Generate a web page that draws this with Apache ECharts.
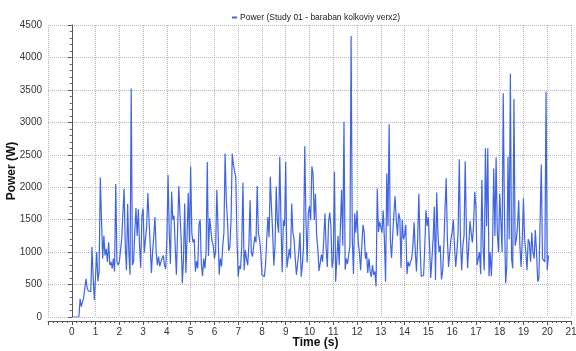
<!DOCTYPE html>
<html>
<head>
<meta charset="utf-8">
<script src="https://cdn.jsdelivr.net/npm/echarts@6/dist/echarts.min.js"></script>
<style>
	html, body { margin: 0; padding: 0; background: #fff; }
	#chart { width: 576px; height: 351px; }
</style>
</head>
<body>
<div id="chart"></div>
<script>
var seriesName = 'Power (Study 01 - baraban kolkoviy verx2)';
var timeStep = 0.05; // s, sample spacing

// power (W), one row per second of simulation
var power = [].concat(
	[0, 0, 0, 0, 0, 0, 0, 280, 160, 170, 300, 450, 590, 440, 400, 420, 390, 1080, 600, 260],
	[280, 1000, 550, 700, 2150, 1500, 900, 1250, 950, 1050, 850, 1150, 800, 850, 750, 900, 700, 2050, 850, 800],
	[850, 830, 1200, 1220, 1980, 1100, 720, 1740, 1000, 650, 3520, 800, 850, 1300, 1680, 1250, 1660, 1100, 760, 1550],
	[1670, 990, 1200, 1400, 1910, 1500, 1100, 680, 1010, 1250, 1540, 1000, 800, 930, 780, 850, 820, 950, 800, 740],
	[1200, 2190, 1300, 820, 1930, 1500, 1560, 1100, 650, 1300, 2020, 1600, 1200, 520, 900, 1750, 680, 1250, 1910, 1150],
	[2320, 1290, 1150, 1200, 700, 860, 750, 1420, 1500, 820, 630, 900, 750, 1000, 2390, 940, 1520, 1350, 1170, 1100],
	[900, 1000, 1960, 1400, 650, 900, 780, 1100, 1300, 2520, 1800, 1490, 1020, 1080, 1500, 2520, 2340, 2370, 2150, 1200],
	[620, 790, 740, 1100, 2070, 720, 1030, 900, 800, 1100, 1800, 1000, 930, 1090, 1240, 1150, 2020, 1290, 1190, 1000],
	[650, 650, 620, 800, 1190, 1540, 1230, 2160, 1700, 1300, 790, 1100, 2010, 1450, 1300, 2470, 1450, 690, 1490, 1400],
	[2390, 760, 900, 1050, 900, 1750, 1300, 1200, 900, 650, 680, 1000, 1300, 620, 800, 1100, 2630, 1500, 840, 1600],
	[1710, 1490, 2320, 2200, 1490, 1900, 1250, 1050, 710, 830, 960, 850, 1200, 1600, 1050, 770, 1450, 1610, 1400, 760],
	[900, 2240, 545, 900, 1250, 800, 1400, 1960, 1100, 3010, 730, 900, 820, 850, 1100, 4330, 1200, 660, 1600, 1300],
	[1640, 1150, 1000, 720, 1100, 1420, 1300, 900, 1000, 680, 900, 700, 620, 800, 650, 700, 470, 1980, 1310, 1470],
	[1470, 1300, 1640, 1200, 545, 2210, 1400, 2970, 1200, 910, 1250, 1600, 1860, 1500, 1250, 1600, 1520, 760, 1500, 1200],
	[1250, 1420, 660, 850, 780, 850, 900, 1100, 1460, 1000, 700, 1200, 1900, 1100, 630, 650, 640, 1100, 1650, 1400],
	[1540, 1100, 600, 900, 1200, 1700, 570, 1920, 1300, 1000, 1100, 580, 700, 1100, 1650, 2140, 1200, 770, 1000, 1200],
	[1300, 1500, 1100, 770, 1000, 1300, 2430, 1200, 720, 1100, 1250, 2400, 1300, 750, 1100, 1480, 1300, 1150, 1400, 1930],
	[1700, 800, 770, 1000, 660, 2110, 1100, 720, 2600, 1400, 2600, 630, 1000, 630, 1100, 2290, 1250, 2460, 1300, 1000],
	[1900, 1500, 1000, 3450, 1600, 520, 800, 2470, 1200, 3750, 900, 750, 3360, 1100, 1200, 1400, 1800, 1100, 770, 1200],
	[1830, 1200, 1000, 720, 1200, 1150, 850, 1300, 1000, 900, 1340, 1000, 545, 600, 580, 2350, 900, 880, 850, 3470],
	[720, 950]
);

var points = [];
for (var i = 0; i < power.length; i++) {
	points.push([+(i * timeStep).toFixed(2), power[i]]);
}

var fontName = 'Liberation Sans';
var axisColor = '#555';
var gridLine = { show: true, lineStyle: { color: '#b5b5b5', type: 'dotted', width: 1 } };

var chart = echarts.init(document.getElementById('chart'));

var option = {
	animation: false,
	textStyle: { fontFamily: fontName },
	legend: {
		top: 8,
		left: 227,
		icon: 'rect',
		itemWidth: 5,
		itemHeight: 2,
		itemGap: 4,
		textStyle: { fontSize: 8.5, color: '#222', fontFamily: fontName, padding: [0, 0, 0, -2] },
		data: [seriesName]
	},
	grid: { left: 48, right: 5, top: 25, bottom: 34, outerBoundsMode: 'none', containLabel: false },
	xAxis: {
		type: 'value',
		min: -1,
		max: 21,
		interval: 1,
		offset: 4,
		name: 'Time (s)',
		nameLocation: 'middle',
		nameGap: 16,
		nameMoveOverlap: false,
		nameTextStyle: { fontSize: 12, fontWeight: 'bold', color: '#111', padding: [0, 0, 0, 12] },
		axisLine: { onZero: false, lineStyle: { color: axisColor } },
		axisTick: { show: true, length: 4, lineStyle: { color: axisColor } },
		minorTick: { show: true, splitNumber: 5, length: 2, lineStyle: { color: axisColor } },
		axisLabel: {
			fontSize: 10, color: '#333', margin: 6,
			formatter: function (v) { return v < 0 ? '' : String(v); }
		},
		splitLine: gridLine
	},
	yAxis: {
		type: 'value',
		min: 0,
		max: 4500,
		interval: 500,
		name: 'Power (W)',
		nameLocation: 'middle',
		nameGap: 30,
		nameMoveOverlap: false,
		nameTextStyle: { fontSize: 12, fontWeight: 'bold', color: '#111' },
		axisLine: { show: true, lineStyle: { color: axisColor } },
		axisTick: { show: true, length: 4, lineStyle: { color: axisColor } },
		minorTick: { show: true, splitNumber: 5, length: 2, lineStyle: { color: axisColor } },
		axisLabel: {
			fontSize: 10, color: '#333', margin: 6,
			formatter: function (v) { return String(v); }
		},
		splitLine: gridLine
	},
	series: [
		{
			name: seriesName,
			type: 'line',
			data: points,
			symbol: 'none',
			color: '#3f64e4',
			lineStyle: { width: 1.2, color: '#3f64e4' }
		}
	]
};

chart.setOption(option);
</script>
</body>
</html>
